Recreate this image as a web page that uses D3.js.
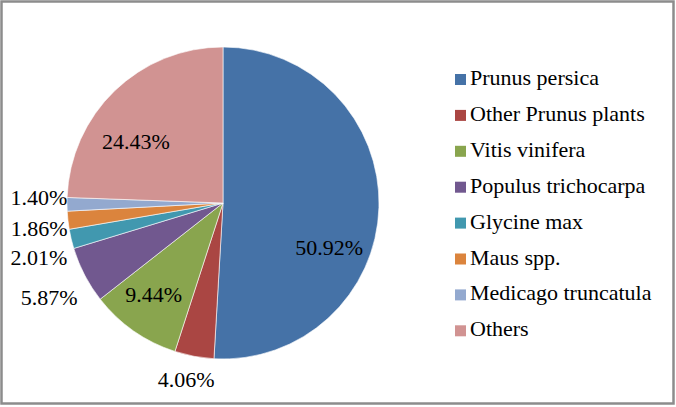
<!DOCTYPE html>
<html>
<head>
<meta charset="utf-8">
<script src="https://cdn.jsdelivr.net/npm/d3@7"></script>
<style>
  body { margin: 0; background: #fff; }
</style>
</head>
<body>
<div id="chart"></div>
<script>
// dados do gráfico
var categories = ["Prunus persica", "Other Prunus plants", "Vitis vinifera", "Populus trichocarpa",
                  "Glycine max", "Maus spp.", "Medicago truncatula", "Others"];
var values = [50.92, 4.06, 9.44, 5.87, 2.01, 1.86, 1.40, 24.43];
var colors = ["#4572A7", "#AA4643", "#89A54E", "#71588F", "#4198AF", "#DB843D", "#93A9CF", "#D19392"];
// rótulos dentro ou fora da fatia, e pequeno ajuste (como o Excel faz)
var labelInside = [true, false, true, false, false, false, false, true];
var labelShift = [[-6, 41], [-4, 2], [-5, -1], [-16, 12], [-11, 14], [-7, 6], [-6, -7], [-9, 19]];

var width = 676, height = 407;
var cx = 223, cy = 203, radius = 156;
var fonte = "Liberation Serif, DejaVu Serif, Times, serif";

var svg = d3.select("#chart").append("svg")
    .attr("width", width)
    .attr("height", height)
    .style("font-family", fonte);

// moldura
svg.append("rect")
    .attr("x", 1.5).attr("y", 1.5)
    .attr("width", width - 4).attr("height", height - 5)
    .attr("fill", "#fff")
    .attr("stroke", "#8c8c8c")
    .attr("stroke-width", 2.5);

var pie = d3.pie().sort(null).value(function(d) { return d; });
var arcs = pie(values);

var arc = d3.arc().innerRadius(0).outerRadius(radius);
var arcIn = d3.arc().innerRadius(radius * 0.72).outerRadius(radius * 0.72);
var arcOut = d3.arc().innerRadius(radius + 22).outerRadius(radius + 22);

var g = svg.append("g").attr("transform", "translate(" + cx + "," + cy + ")");

g.selectAll("path")
    .data(arcs)
    .enter().append("path")
    .attr("d", arc)
    .attr("fill", function(d, i) { return colors[i]; })
    .attr("stroke", "#fff")
    .attr("stroke-width", 0.6);

g.selectAll("text.lbl")
    .data(arcs)
    .enter().append("text")
    .attr("class", "lbl")
    .attr("text-anchor", "middle")
    .attr("dominant-baseline", "central")
    .style("font-family", fonte)
    .attr("font-size", 22)
    .attr("fill", "#000")
    .attr("transform", function(d, i) {
        var p = labelInside[i] ? arcIn.centroid(d) : arcOut.centroid(d);
        return "translate(" + (p[0] + labelShift[i][0]) + "," + (p[1] + labelShift[i][1]) + ")";
    })
    .text(function(d) { return d.data.toFixed(2) + "%"; });

// legenda
var legend = svg.append("g").attr("transform", "translate(455,85)");
var item = legend.selectAll("g")
    .data(categories)
    .enter().append("g")
    .attr("transform", function(d, i) { return "translate(0," + (i * 35.9) + ")"; });

item.append("rect")
    .attr("x", 0).attr("y", -11)
    .attr("width", 11).attr("height", 11)
    .attr("fill", function(d, i) { return colors[i]; });

item.append("text")
    .attr("x", 15).attr("y", 0)
    .style("font-family", fonte)
    .attr("font-size", 22)
    .attr("fill", "#000")
    .text(function(d) { return d; });
</script>
</body>
</html>
